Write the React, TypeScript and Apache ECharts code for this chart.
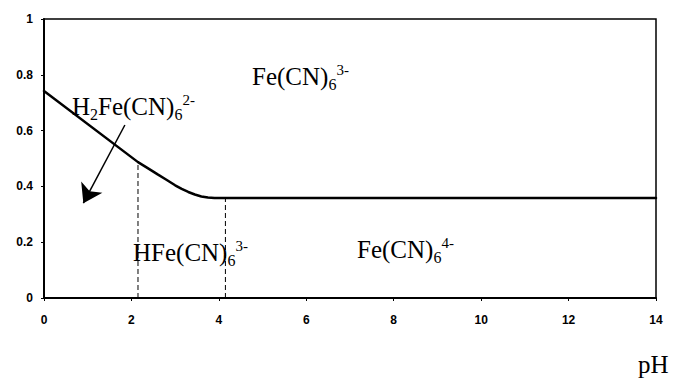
import React, { useEffect, useRef } from "react";
import * as echarts from "echarts";

const xTicks = [0, 2, 4, 6, 8, 10, 12, 14];
const yTicks = [0, 0.2, 0.4, 0.6, 0.8, 1];
// boundary between Fe(CN)6 3- (above) and reduced species (below)
const boundaryPH = [0, 2.15, 2.4, 2.6, 2.8, 3.0, 3.15, 3.3, 3.45, 3.6, 3.75, 3.9, 14];
const boundaryE = [0.742, 0.487, 0.463, 0.443, 0.424, 0.404, 0.391, 0.38, 0.371, 0.364, 0.36, 0.358, 0.358];
// vertical dashed dividers (pKa values)
const dividerPH = [2.15, 4.15];
const dividerTopE = [0.487, 0.358];
// arrow pointing to H2Fe(CN)6 2- region
const arrowFrom = [1.85, 0.62];
const arrowTo = [0.9, 0.34];

const serif = "'Liberation Serif', 'Times New Roman', serif";

export default function App() {
  const ref = useRef<HTMLDivElement>(null);
  useEffect(() => {
    if (!ref.current) return;
    const chart = echarts.init(ref.current, null, { renderer: "svg" });
    const rich = {
      a: { fontFamily: serif, fontSize: 25, lineHeight: 36, verticalAlign: "middle", color: "#000" },
      s: { fontFamily: serif, fontSize: 16, lineHeight: 36, verticalAlign: "bottom", color: "#000", padding: [0, 0, 2, 0] },
      p: { fontFamily: serif, fontSize: 15, lineHeight: 36, verticalAlign: "top", color: "#000", padding: [4, 0, 0, 0] },
    };
    const mkText = (x: number, y: number, text: string) => ({
      type: "text",
      x,
      y,
      style: { text, rich, align: "left", verticalAlign: "middle" },
    });
    const boundary = boundaryPH.map((p, i) => [p, boundaryE[i]]);
    const dividers = dividerPH.map((p, i) => ({
      type: "line",
      data: [
        [p, 0],
        [p, dividerTopE[i]],
      ],
      symbol: "none",
      lineStyle: { color: "#000", width: 1, type: [5, 3] },
      z: 1,
    }));
    chart.setOption({
      animation: false,
      backgroundColor: "#fff",
      grid: {
        left: 44,
        right: 21,
        top: 19,
        bottom: 85,
        show: true,
        borderColor: "#000",
        borderWidth: 1.5,
      },
      xAxis: {
        type: "value",
        min: xTicks[0],
        max: xTicks[xTicks.length - 1],
        interval: 2,
        axisLine: { lineStyle: { color: "#000", width: 2 } },
        axisTick: { show: true, length: 3, lineStyle: { color: "#000" } },
        axisLabel: {
          color: "#000",
          fontFamily: "'Liberation Sans', Arial, sans-serif",
          fontWeight: "bold",
          fontSize: 12,
          margin: 16,
        },
        splitLine: { show: false },
      },
      yAxis: {
        type: "value",
        min: yTicks[0],
        max: yTicks[yTicks.length - 1],
        interval: 0.2,
        axisLine: { show: true, lineStyle: { color: "#000", width: 2 } },
        axisTick: { show: true, length: 3, lineStyle: { color: "#000" } },
        axisLabel: {
          color: "#000",
          fontFamily: "'Liberation Sans', Arial, sans-serif",
          fontWeight: "bold",
          fontSize: 12,
          margin: 11,
        },
        splitLine: { show: false },
      },
      series: [
        {
          type: "line",
          data: boundary,
          symbol: "none",
          smooth: false,
          lineStyle: { color: "#000", width: 2.5, join: "round", cap: "round" },
          z: 3,
          markLine: {
            silent: true,
            symbol: ["none", "arrow"],
            symbolSize: 18,
            label: { show: false },
            lineStyle: { color: "#000", width: 1.5, type: "solid" },
            data: [[{ coord: arrowFrom }, { coord: arrowTo }]],
          },
        },
        ...dividers,
      ],
      graphic: [
        mkText(72, 106, "{a|H}{s|2}{a|Fe(CN)}{s|6}{p|2-}"),
        mkText(252, 76, "{a|Fe(CN)}{s|6}{p|3-}"),
        mkText(133, 252, "{a|HFe(CN)}{s|6}{p|3-}"),
        mkText(357, 249, "{a|Fe(CN)}{s|6}{p|4-}"),
        {
          type: "text",
          x: 638,
          y: 364,
          style: { text: "pH", fontFamily: serif, fontSize: 25, fill: "#000", align: "left", verticalAlign: "middle" },
        },
      ],
    });
    return () => chart.dispose();
  }, []);
  return (
    <div
      ref={ref}
      style={{ position: "fixed", left: 0, top: 0, width: 677, height: 383, background: "#fff" }}
    />
  );
}
